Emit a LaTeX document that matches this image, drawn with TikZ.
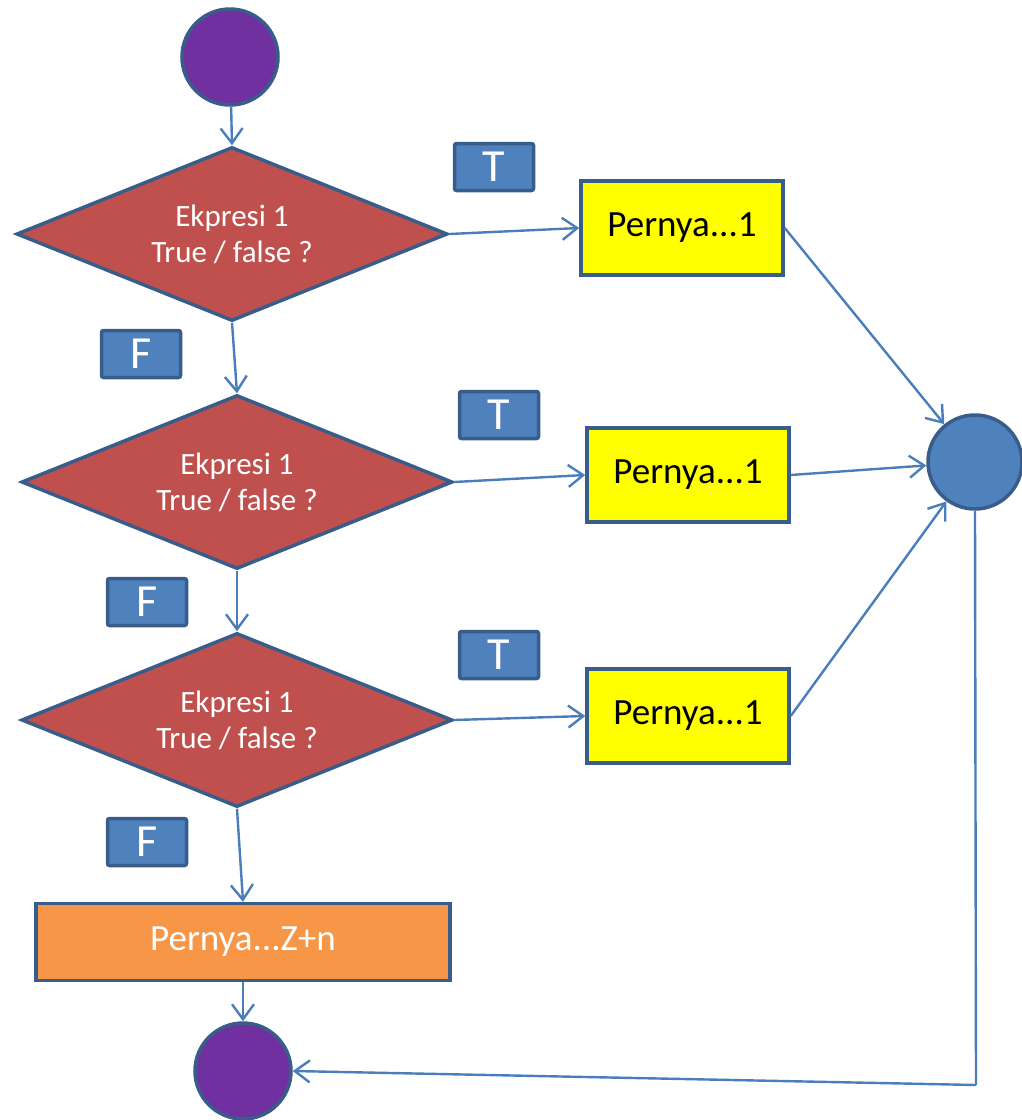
\documentclass[tikz,border=0pt]{standalone}
\usepackage{fontspec}
\setmainfont{Carlito}
\usetikzlibrary{shapes.geometric,arrows.meta,positioning}

\definecolor{lineblue}{HTML}{4A7EBB}
\definecolor{edgeblue}{HTML}{385D8A}
\definecolor{fillblue}{HTML}{4F81BD}
\definecolor{condred}{HTML}{C0504D}
\definecolor{termpurple}{HTML}{7030A0}
\definecolor{stmtorange}{HTML}{F79646}
\definecolor{stmtyellow}{HTML}{FFFF00}

\begin{document}
\begin{tikzpicture}[x=0.5pt,y=-0.5pt,
	terminal/.style={circle,draw=edgeblue,line width=1.75pt,fill=termpurple,minimum size=48pt,inner sep=0pt},
	decision/.style={diamond,aspect=2.5,draw=edgeblue,line width=1.75pt,fill=condred,text=white,align=center,
		minimum width=215.5pt,minimum height=87pt,inner sep=0pt,font=\fontsize{15.5}{18}\selectfont},
	statement/.style={rectangle,draw=edgeblue,line width=1.75pt,fill=stmtyellow,minimum width=101pt,minimum height=47pt,
		font=\fontsize{18.5}{22}\selectfont},
	flag/.style={rectangle,rounded corners=1pt,draw=edgeblue,line width=1.75pt,fill=fillblue,text=white,
		minimum width=39.5pt,minimum height=23.5pt,inner sep=0pt,font=\fontsize{23}{26}\selectfont},
	flow/.style={draw=lineblue,line width=1.2pt,-{Straight Barb[length=7.5pt,width=11pt,line width=1.2pt]}}
]
	\useasboundingbox (0,0) rectangle (1022,1120);

	\node[terminal] (start) at (230,57) {};

	\node[decision] (cond1) at (232,234) {Ekpresi 1\\True / false ?};
	\node[decision] (cond2) at (237,482) {Ekpresi 1\\True / false ?};
	\node[decision] (cond3) at (237,720) {Ekpresi 1\\True / false ?};

	\node[statement] (stmt1) at (682,228) {Pernya...1};
	\node[statement] (stmt2) at (688,475) {Pernya...1};
	\node[statement] (stmt3) at (688,716) {Pernya...1};
	\node[statement,fill=stmtorange,text=white,minimum width=207pt,minimum height=38.5pt] (stmtz) at (243,942) {Pernya...Z+n};

	\node[terminal,fill=fillblue,minimum size=47pt] (join) at (975,462) {};
	\node[terminal] (stop) at (243,1071) {};
	\coordinate (corner) at (976,1085);

	\node[flag] (true1) at (494,167) {T};
	\node[flag] (false1) at (141,354) {F};
	\node[flag] (true2) at (499,415) {T};
	\node[flag] (false2) at (147,602) {F};
	\node[flag] (true3) at (499,655) {T};
	\node[flag] (false3) at (147,842) {F};

	\draw[flow] (start) -- (cond1.north);
	\draw[flow] (cond1.east) -- (stmt1.west);
	\draw[flow] (cond1.south) -- (cond2.north);
	\draw[flow] (cond2.east) -- (stmt2.west);
	\draw[flow] (cond2.south) -- (cond3.north);
	\draw[flow] (cond3.east) -- (stmt3.west);
	\draw[flow] (cond3.south) -- (stmtz.north);
	\draw[flow] (stmtz.south) -- (stop.north);

	\draw[flow] (stmt1.east) -- (join);
	\draw[flow] (stmt2.east) -- (join);
	\draw[flow] (stmt3.east) -- (join);
	\draw[draw=lineblue,line width=1.2pt] (join.south) -- (corner);
	\draw[flow] (corner) -- (stop.east);

\end{tikzpicture}
\end{document}
